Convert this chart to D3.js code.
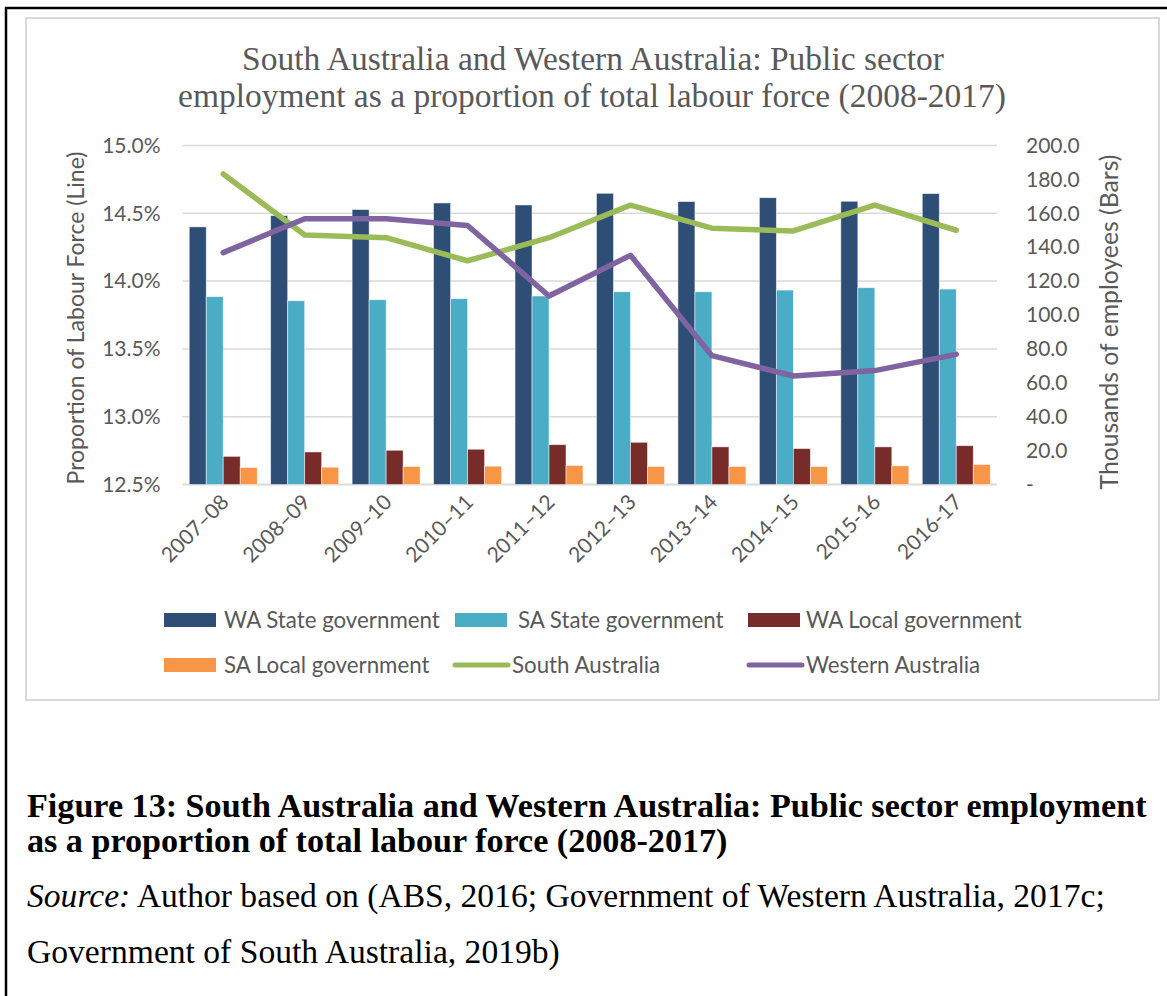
<!DOCTYPE html>
<html>
<head>
<meta charset="utf-8">
<script src="https://cdn.jsdelivr.net/npm/d3@7"></script>
<style>
  html, body { margin: 0; padding: 0; background: #fff; }
  svg { display: block; }
</style>
</head>
<body>
<svg id="chart" width="1167" height="996"></svg>
<script>
// ---------- Data ----------
const categories = ["2007–08","2008–09","2009–10","2010–11","2011–12","2012–13","2013–14","2014–15","2015-16","2016-17"];
// Thousands of employees (bars, right axis)
const waState = [152.0,158.6,162.2,166.1,164.9,171.8,166.9,169.2,167.1,171.6];
const saState = [110.8,108.4,109.0,109.6,111.2,113.7,113.7,114.7,116.1,115.3];
const waLocal = [16.6,19.2,20.2,20.8,23.5,24.9,22.2,21.2,22.2,22.9];
const saLocal = [10.0,10.2,10.6,10.8,11.2,10.6,10.6,10.6,11.0,11.8];
// Proportion of labour force (%) (lines, left axis)
const southAustralia = [14.79,14.34,14.32,14.15,14.32,14.56,14.39,14.37,14.56,14.375];
const westernAustralia = [14.21,14.46,14.46,14.41,13.89,14.19,13.45,13.30,13.34,13.46];
// Tick values
const leftTicks = [12.5,13.0,13.5,14.0,14.5,15.0];
const rightTicks = [0,20,40,60,80,100,120,140,160,180,200];

const barSeries = [
  {name:"WA State government", values: waState, color:"#2E4E76"},
  {name:"SA State government", values: saState, color:"#4BACC6"},
  {name:"WA Local government", values: waLocal, color:"#772C2A"},
  {name:"SA Local government", values: saLocal, color:"#F79646"}
];
const lineSeries = [
  {name:"South Australia", values: southAustralia, color:"#9BBB59"},
  {name:"Western Australia", values: westernAustralia, color:"#8064A2"}
];

const svg = d3.select("#chart");
const SANS = "Lato, 'Open Sans', sans-serif";
const SERIF = "'Liberation Serif', 'DejaVu Serif', serif";
const TXT = "#595959";

function fit(sel, target) {
  const node = sel.node();
  const fs = parseFloat(sel.attr("font-size"));
  const w = node.getComputedTextLength();
  const nfs = fs * target / w;
  sel.attr("font-size", nfs);
  return nfs;
}

// ---------- Frames ----------
svg.append("rect").attr("x",6).attr("y",8).attr("width",1200).attr("height",1100)
  .attr("fill","none").attr("stroke","#000").attr("stroke-width",2.5);
svg.append("rect").attr("x",26).attr("y",18).attr("width",1133).attr("height",682)
  .attr("fill","#fff").attr("stroke","#D9D9D9").attr("stroke-width",2);

// ---------- Title ----------
const t2 = svg.append("text").attr("x",592).attr("y",107).attr("text-anchor","middle")
  .attr("font-family",SERIF).attr("font-size",28).attr("fill",TXT)
  .text("employment as a proportion of total labour force (2008-2017)");
const tfs = fit(t2, 828);
svg.append("text").attr("x",593).attr("y",70).attr("text-anchor","middle")
  .attr("font-family",SERIF).attr("font-size",tfs).attr("fill",TXT)
  .text("South Australia and Western Australia: Public sector");

// ---------- Scales ----------
const x0 = 182.5, x1 = 997, yTop = 145.5, yBot = 484.5;
const x = d3.scaleBand().domain(categories).range([x0,x1]).paddingInner(0).paddingOuter(0);
const groupW = x.bandwidth() * 0.835;
const xb = d3.scaleBand().domain(barSeries.map(d=>d.name)).range([0, groupW]);
const yL = d3.scaleLinear().domain([12.5,15.0]).range([yBot,yTop]);
const yR = d3.scaleLinear().domain([0,200]).range([yBot,yTop]);

// Gridlines
svg.append("g").selectAll("line").data(leftTicks).join("line")
  .attr("x1",x0).attr("x2",x1).attr("y1",d=>yL(d)).attr("y2",d=>yL(d))
  .attr("stroke","#D9D9D9").attr("stroke-width",d=>d===12.5?2:1.5);

// Bars
const groups = svg.append("g").selectAll("g").data(categories).join("g")
  .attr("transform",d=>`translate(${x(d) + (x.bandwidth()-groupW)/2},0)`);
groups.selectAll("rect").data((c,i)=>barSeries.map(s=>({s, v:s.values[i]}))).join("rect")
  .attr("x",d=>xb(d.s.name)).attr("width",xb.bandwidth())
  .attr("y",d=>yR(d.v)).attr("height",d=>yBot-yR(d.v))
  .attr("fill",d=>d.s.color).attr("stroke","#fff").attr("stroke-opacity",0.6).attr("stroke-width",0.8);

// Lines
const line = d3.line().x((d,i)=>x(categories[i])+x.bandwidth()/2).y(d=>yL(d));
lineSeries.forEach(s=>{
  svg.append("path").datum(s.values).attr("d",line)
    .attr("fill","none").attr("stroke",s.color).attr("stroke-width",5.5)
    .attr("stroke-linejoin","round").attr("stroke-linecap","round");
});

// Axes
const leftAxis = svg.append("g").attr("transform",`translate(${x0},0)`)
  .call(d3.axisLeft(yL).tickValues(leftTicks).tickFormat(d=>d.toFixed(1)+"%").tickSize(0).tickPadding(22));
const rightAxis = svg.append("g").attr("transform",`translate(${x1},0)`)
  .call(d3.axisRight(yR).tickValues(rightTicks).tickFormat(d=>d===0?"-":d.toFixed(1)).tickSize(0).tickPadding(29));
[leftAxis,rightAxis].forEach(a=>{
  a.select(".domain").remove();
  a.selectAll("text").attr("font-family",SANS).attr("font-size",21).attr("fill",TXT);
});

const bottomAxis = svg.append("g").attr("transform",`translate(0,${yBot})`)
  .call(d3.axisBottom(x).tickSize(0).tickPadding(0));
bottomAxis.select(".domain").remove();
bottomAxis.selectAll("text")
  .attr("font-family",SANS).attr("font-size",21).attr("fill",TXT)
  .attr("text-anchor","end").attr("dy",0)
  .attr("transform","translate(7,19) rotate(-45)");

// Axis titles
const lt = svg.append("text").attr("transform","translate(84,318) rotate(-90)")
  .attr("text-anchor","middle").attr("font-family",SANS).attr("font-size",21).attr("fill",TXT)
  .text("Proportion of Labour Force (Line)");
fit(lt, 333);
const rt = svg.append("text").attr("transform","translate(1118,322) rotate(-90)")
  .attr("text-anchor","middle").attr("font-family",SANS).attr("font-size",21).attr("fill",TXT)
  .text("Thousands of employees (Bars)");
fit(rt, 335);

// Legend
const legendItems = [
  {type:"rect", s:barSeries[0], sx:164, tx:224, y:620},
  {type:"rect", s:barSeries[1], sx:455, tx:518, y:620},
  {type:"rect", s:barSeries[2], sx:748, tx:806, y:620},
  {type:"rect", s:barSeries[3], sx:164, tx:224, y:665},
  {type:"line", s:lineSeries[0], sx:455, tx:512, y:665},
  {type:"line", s:lineSeries[1], sx:749, tx:806, y:665}
];
const lg = svg.append("g");
let lfs = 20;
legendItems.forEach((it,k)=>{
  if (it.type==="rect") {
    lg.append("rect").attr("x",it.sx).attr("y",it.y-7).attr("width",52).attr("height",14).attr("fill",it.s.color);
  } else {
    lg.append("line").attr("x1",it.sx).attr("x2",it.sx+53).attr("y1",it.y).attr("y2",it.y)
      .attr("stroke",it.s.color).attr("stroke-width",5).attr("stroke-linecap","round");
  }
  const t = lg.append("text").attr("x",it.tx).attr("y",it.y).attr("dy","0.35em")
    .attr("font-family",SANS).attr("font-size",lfs).attr("fill",TXT).text(it.s.name);
  if (k===0) lfs = fit(t, 216);
});

// Caption
const c1 = svg.append("text").attr("x",27).attr("y",817)
  .attr("font-family",SERIF).attr("font-weight","bold").attr("font-size",26).attr("fill","#000")
  .text("Figure 13: South Australia and Western Australia: Public sector employment");
const cfs = fit(c1, 1120);
svg.append("text").attr("x",27).attr("y",852)
  .attr("font-family",SERIF).attr("font-weight","bold").attr("font-size",cfs).attr("fill","#000")
  .text("as a proportion of total labour force (2008-2017)");
const s1 = svg.append("text").attr("x",27).attr("y",907)
  .attr("font-family",SERIF).attr("font-size",26).attr("fill","#000");
s1.append("tspan").attr("font-style","italic").text("Source:");
s1.append("tspan").text(" Author based on (ABS, 2016; Government of Western Australia, 2017c;");
const sfs = fit(s1, 1078);
svg.append("text").attr("x",27).attr("y",963)
  .attr("font-family",SERIF).attr("font-size",sfs).attr("fill","#000")
  .text("Government of South Australia, 2019b)");
</script>
</body>
</html>
